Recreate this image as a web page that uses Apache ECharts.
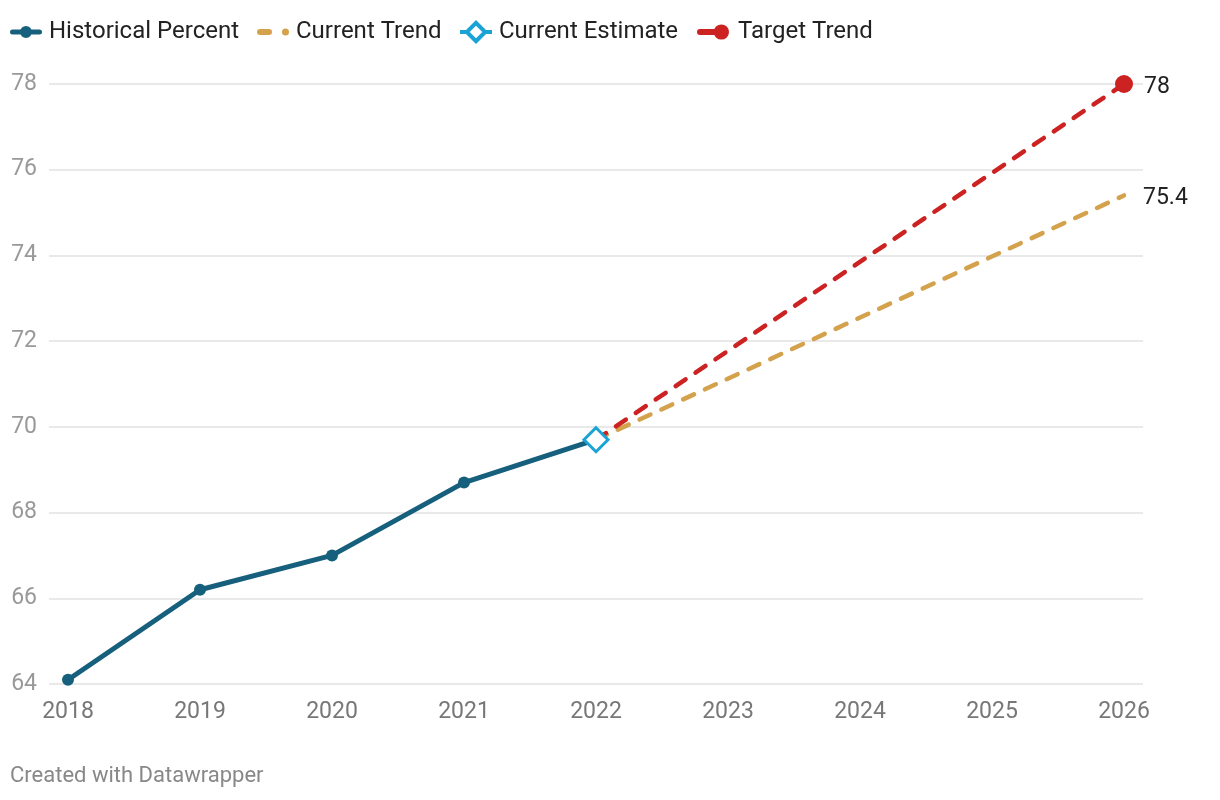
<!DOCTYPE html>
<html><head><meta charset="utf-8">
<script src="https://cdn.jsdelivr.net/npm/echarts@6/dist/echarts.min.js"></script>
<style>html,body{margin:0;padding:0;background:#fff}#c{width:1220px;height:800px}</style>
</head><body><div id="c"></div>
<script>
const years = [2018, 2019, 2020, 2021, 2022, 2023, 2024, 2025, 2026];
const histYears = [2018, 2019, 2020, 2021, 2022];
const histValues = [64.1, 66.2, 67.0, 68.7, 69.7];
const estimateYear = 2022;
const estimateValue = 69.7;
const currentTrendYears = [2022, 2026];
const currentTrendValues = [69.7, 75.4];
const targetTrendYears = [2022, 2026];
const targetTrendValues = [69.7, 78];
const seriesNames = ['Historical Percent', 'Current Trend', 'Current Estimate', 'Target Trend'];

const FONT = 'Roboto';
const C_HIST = '#17607d', C_CUR = '#d4a24c', C_EST = '#1aa3d4', C_TGT = '#cc2222';

const icons = {
  'Historical Percent': 'path://M2.5,3.5 L29.5,3.5 A2.5,2.5 0 0 1 29.5,8.5 L2.5,8.5 A2.5,2.5 0 0 1 2.5,3.5 Z M22,6 A6,6 0 1 1 10,6 A6,6 0 1 1 22,6 Z',
  'Current Trend': 'path://M3,0 L12,0 A3,3 0 0 1 12,6 L3,6 A3,3 0 0 1 3,0 Z M32,3 A3.5,3.5 0 1 1 25,3 A3.5,3.5 0 1 1 32,3 Z',
  'Current Estimate': 'path://M4,12 L16,0 L28,12 L16,24 Z M9.66,12 L16,18.34 L22.34,12 L16,5.66 Z M0,10 L6,10 L6,14 L0,14 Z M26,10 L32,10 L32,14 L26,14 Z',
  'Target Trend': 'path://M3,4.5 L18,4.5 L18,10.5 L3,10.5 A3,3 0 0 1 3,4.5 Z M31.5,7.5 A7.5,7.5 0 1 1 16.5,7.5 A7.5,7.5 0 1 1 31.5,7.5 Z'
};
const iconColors = {'Historical Percent': C_HIST, 'Current Trend': C_CUR, 'Current Estimate': C_EST, 'Target Trend': C_TGT};
const legendLefts = [10, 257, 460, 697];

const chart = echarts.init(document.getElementById('c'));
chart.setOption({
  animation: false,
  textStyle: {fontFamily: FONT},
  legend: seriesNames.map((n, i) => ({
    left: legendLefts[i], top: 20, padding: 0, itemWidth: 32, itemHeight: 24, symbolKeepAspect: true,
    selectedMode: false,
    textStyle: {fontSize: 24, color: '#222', fontFamily: FONT, padding: [0, 0, 0, i === 3 ? 4 : 2]},
    data: [{name: n, icon: icons[n], itemStyle: {color: iconColors[n], borderWidth: 0}, lineStyle: {width: 0}}]
  })),
  grid: {left: 49, right: 77, top: 84, bottom: 116, containLabel: false},
  xAxis: {
    type: 'value', min: 2017.856, max: 2026.144,
    axisLine: {show: false}, axisTick: {show: false}, splitLine: {show: false},
    axisLabel: {customValues: years, color: '#777', fontSize: 23, margin: 17, fontFamily: FONT, formatter: v => String(v)}
  },
  yAxis: {
    type: 'value', min: 64, max: 78, interval: 2,
    axisLine: {show: false}, axisTick: {show: false},
    splitLine: {lineStyle: {color: '#e2e2e2', width: 1.5}},
    axisLabel: {color: '#999', fontSize: 23, margin: 12, fontFamily: FONT, padding: [3, 0, 0, 0]}
  },
  series: [
    {
      name: 'Current Trend', type: 'line', z: 2,
      data: currentTrendYears.map((y, i) => [y, currentTrendValues[i]]),
      symbol: 'none',
      itemStyle: {color: C_CUR},
      lineStyle: {color: C_CUR, width: 4.5, type: [12, 12], cap: 'round'},
      endLabel: {show: true, formatter: p => String(p.value[1]), color: '#222', fontSize: 23, distance: 19, fontFamily: FONT, offset: [0, 3]}
    },
    {
      name: 'Target Trend', type: 'line', z: 3,
      data: targetTrendYears.map((y, i) => i === 0 ? {value: [y, targetTrendValues[i]], symbol: 'none'} : [y, targetTrendValues[i]]),
      symbol: 'circle', symbolSize: 18,
      itemStyle: {color: C_TGT},
      lineStyle: {color: C_TGT, width: 4.5, type: [12, 12], cap: 'round'},
      endLabel: {show: true, formatter: p => String(p.value[1]), color: '#222', fontSize: 23, distance: 20, fontFamily: FONT, offset: [0, 3]}
    },
    {
      name: 'Historical Percent', type: 'line', z: 4,
      data: histYears.map((y, i) => [y, histValues[i]]),
      symbol: 'circle', symbolSize: 12,
      itemStyle: {color: C_HIST},
      lineStyle: {color: C_HIST, width: 5}
    },
    {
      name: 'Current Estimate', type: 'line', z: 5,
      data: [[estimateYear, estimateValue]],
      symbol: 'diamond', symbolSize: 24,
      itemStyle: {color: '#fff', borderColor: C_EST, borderWidth: 3},
      lineStyle: {color: C_EST, width: 0}
    }
  ],
  graphic: [{
    type: 'text', left: 10, top: 765,
    style: {text: 'Created with Datawrapper', fill: '#888', fontSize: 22, fontFamily: FONT}
  }]
});
</script></body></html>
